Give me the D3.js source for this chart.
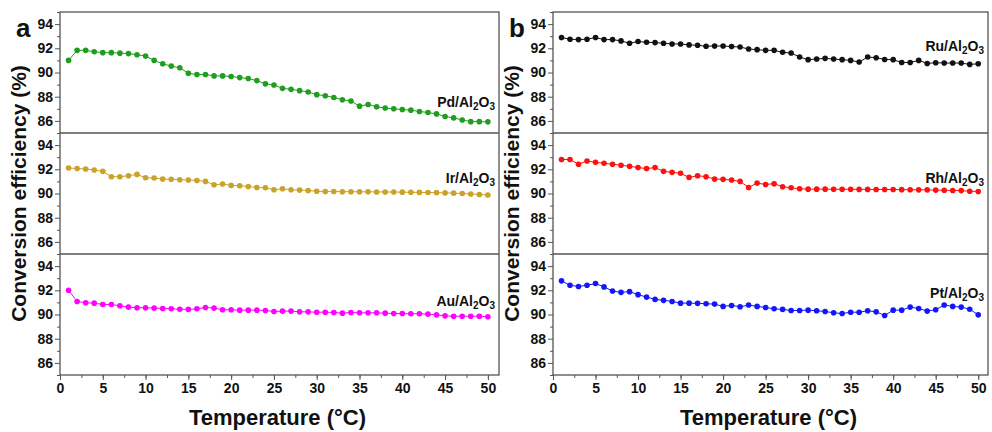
<html>
  <head>
    <script src="https://d3js.org/d3.v7.min.js"></script>
    <style>
      body { margin: 0; background: #fff; }
      text { font-family: "Liberation Sans", Arial, sans-serif; font-weight: bold; }
    </style>
  </head>

  <body>
    <div id="vis"></div>
  </body>

  <script>
    // temperature points 1..50
    var temps = d3.range(1, 51)

    var yTicks = [86, 88, 90, 92, 94]
    var xTicks = [0, 5, 10, 15, 20, 25, 30, 35, 40, 45, 50]

    // panel a
    var pd = [91.0, 91.83, 91.83, 91.72, 91.64, 91.64, 91.6, 91.56, 91.47, 91.36,
      91.0, 90.72, 90.53, 90.39, 89.94, 89.83, 89.83, 89.72, 89.72, 89.67,
      89.58, 89.5, 89.33, 89.06, 88.97, 88.69, 88.61, 88.5, 88.39, 88.17,
      88.08, 87.94, 87.75, 87.64, 87.22, 87.36, 87.17, 87.06, 87.0, 86.94,
      86.89, 86.78, 86.69, 86.58, 86.36, 86.25, 86.08, 85.94, 85.94, 85.92]
    var ir = [92.11, 92.06, 92.03, 91.94, 91.83, 91.39, 91.39, 91.47, 91.58, 91.3,
      91.28, 91.19, 91.17, 91.14, 91.11, 91.08, 91.0, 90.72, 90.78, 90.67,
      90.64, 90.58, 90.5, 90.47, 90.31, 90.39, 90.31, 90.28, 90.25, 90.19,
      90.17, 90.17, 90.15, 90.15, 90.14, 90.14, 90.13, 90.13, 90.12, 90.11,
      90.1, 90.09, 90.08, 90.07, 90.05, 90.03, 90.0, 89.96, 89.92, 89.88]
    var au = [92.0, 91.08, 90.97, 90.94, 90.83, 90.83, 90.72, 90.61, 90.56, 90.56,
      90.53, 90.5, 90.47, 90.44, 90.42, 90.47, 90.58, 90.53, 90.39, 90.39,
      90.36, 90.36, 90.36, 90.33, 90.25, 90.28, 90.28, 90.22, 90.22, 90.19,
      90.19, 90.17, 90.11, 90.17, 90.14, 90.14, 90.14, 90.11, 90.08, 90.08,
      90.06, 90.06, 90.03, 89.97, 89.89, 89.86, 89.86, 89.86, 89.86, 89.81]

    // panel b
    var ru = [92.89, 92.75, 92.72, 92.75, 92.89, 92.72, 92.72, 92.61, 92.42, 92.56,
      92.5, 92.47, 92.42, 92.36, 92.36, 92.28, 92.25, 92.17, 92.19, 92.19,
      92.14, 92.11, 91.94, 91.89, 91.83, 91.83, 91.67, 91.61, 91.28, 91.06,
      91.11, 91.17, 91.11, 91.06, 91.0, 90.86, 91.28, 91.22, 91.08, 91.06,
      90.83, 90.83, 91.0, 90.75, 90.81, 90.78, 90.78, 90.78, 90.67, 90.72]
    var rh = [92.81, 92.81, 92.42, 92.69, 92.58, 92.5, 92.42, 92.33, 92.25, 92.14,
      92.06, 92.14, 91.83, 91.75, 91.67, 91.33, 91.47, 91.39, 91.19, 91.17,
      91.11, 91.0, 90.5, 90.86, 90.75, 90.81, 90.56, 90.47, 90.39, 90.36,
      90.36, 90.36, 90.35, 90.35, 90.35, 90.34, 90.34, 90.33, 90.33, 90.33,
      90.32, 90.31, 90.3, 90.3, 90.28, 90.27, 90.25, 90.24, 90.19, 90.17]
    var pt = [92.78, 92.42, 92.31, 92.42, 92.56, 92.28, 91.94, 91.83, 91.89, 91.64,
      91.44, 91.25, 91.17, 91.08, 90.94, 90.94, 90.92, 90.89, 90.86, 90.67,
      90.75, 90.64, 90.78, 90.67, 90.58, 90.47, 90.42, 90.33, 90.33, 90.36,
      90.31, 90.25, 90.14, 90.08, 90.19, 90.19, 90.31, 90.22, 89.92, 90.36,
      90.36, 90.61, 90.5, 90.28, 90.39, 90.78, 90.67, 90.61, 90.44, 89.97]

    var svg = d3.select("#vis")
      .append("svg")
      .attr("width", 992)
      .attr("height", 432)

    var frameColor = "#555"

    var panels = [
      { letter: "a", left: 60, right: 499, xMax: 51.3,
        series: [
          { name: "Pd", values: pd, color: "#1f9d1f", labelY: 87.15 },
          { name: "Ir", values: ir, color: "#c9a227", labelY: 90.85 },
          { name: "Au", values: au, color: "#ff00ff", labelY: 90.7 }
        ] },
      { letter: "b", left: 553, right: 988, xMax: 51.15,
        series: [
          { name: "Ru", values: ru, color: "#111111", labelY: 91.8 },
          { name: "Rh", values: rh, color: "#ff1010", labelY: 90.85 },
          { name: "Pt", values: pt, color: "#1414ff", labelY: 91.35 }
        ] }
    ]

    var plotTop = 12
    var subH = 121
    var plotBottom = plotTop + subH * 3

    panels.forEach(function(p) {
      var x = d3.scaleLinear().domain([0, p.xMax]).range([p.left, p.right])
      var g = svg.append("g")

      p.series.forEach(function(s, i) {
        var y0 = plotTop + i * subH
        var y = d3.scaleLinear().domain([85, 95]).range([y0 + subH, y0])

        // minor y ticks
        g.append("g")
          .attr("transform", "translate(" + p.left + ",0)")
          .call(d3.axisLeft(y).tickValues([85, 87, 89, 91, 93, 95]).tickSize(3).tickFormat(""))
          .call(function(a) { a.select(".domain").remove() })
          .selectAll("line").attr("stroke", frameColor)

        // major y ticks
        var ay = g.append("g")
          .attr("transform", "translate(" + p.left + ",0)")
          .call(d3.axisLeft(y).tickValues(yTicks).tickSize(5).tickPadding(2))
        ay.select(".domain").remove()
        ay.selectAll("line").attr("stroke", frameColor)
        ay.selectAll("text")
          .style("font-size", "14px")
          .style("font-weight", "bold")
          .style("font-family", "Liberation Sans, Arial, sans-serif")
          .attr("fill", "#111")

        var line = d3.line()
          .x(function(d, j) { return x(temps[j]) })
          .y(function(d) { return y(d) })

        g.append("path")
          .datum(s.values)
          .attr("fill", "none")
          .attr("stroke", s.color)
          .attr("stroke-width", 1)
          .attr("d", line)

        g.selectAll(".dot" + s.name)
          .data(s.values)
          .enter()
          .append("circle")
          .attr("cx", function(d, j) { return x(temps[j]) })
          .attr("cy", function(d) { return y(d) })
          .attr("r", 2.8)
          .attr("fill", s.color)

        // series label with subscripts
        var lab = g.append("text")
          .attr("x", p.right - 4)
          .attr("y", y(s.labelY))
          .attr("text-anchor", "end")
          .style("font-size", "14px")
          .attr("fill", "#111")
        lab.append("tspan").text(s.name + "/Al")
        lab.append("tspan").text("2").style("font-size", "10px").attr("dy", 3)
        lab.append("tspan").text("O").attr("dy", -3)
        lab.append("tspan").text("3").style("font-size", "10px").attr("dy", 3)

        if (i > 0) {
          g.append("line")
            .attr("x1", p.left).attr("x2", p.right)
            .attr("y1", y0).attr("y2", y0)
            .attr("stroke", frameColor)
            .attr("stroke-width", 1.3)
        }
      })

      // x axis
      g.append("g")
        .attr("transform", "translate(0," + plotBottom + ")")
        .call(d3.axisBottom(x).tickValues(d3.range(0, 51, 2.5)).tickSize(3).tickFormat(""))
        .call(function(a) { a.select(".domain").remove() })
        .selectAll("line").attr("stroke", frameColor)

      var ax = g.append("g")
        .attr("transform", "translate(0," + plotBottom + ")")
        .call(d3.axisBottom(x).tickValues(xTicks).tickSize(5).tickPadding(3))
      ax.select(".domain").remove()
      ax.selectAll("line").attr("stroke", frameColor)
      ax.selectAll("text")
        .style("font-size", "14px")
        .style("font-weight", "bold")
        .style("font-family", "Liberation Sans, Arial, sans-serif")
        .attr("fill", "#111")

      // frame
      g.append("rect")
        .attr("x", p.left).attr("y", plotTop)
        .attr("width", p.right - p.left).attr("height", plotBottom - plotTop)
        .attr("fill", "none")
        .attr("stroke", frameColor)
        .attr("stroke-width", 1.3)

      // titles
      g.append("text")
        .attr("x", (p.left + p.right) / 2 - 2)
        .attr("y", 425)
        .attr("text-anchor", "middle")
        .style("font-size", "22px")
        .attr("fill", "#111")
        .text("Temperature (\u00B0C)")

      g.append("text")
        .attr("transform", "translate(" + (p.left - 34) + "," + ((plotTop + plotBottom) / 2) + ") rotate(-90)")
        .attr("text-anchor", "middle")
        .style("font-size", "21px")
        .attr("fill", "#111")
        .text("Conversion efficiency (%)")

      g.append("text")
        .attr("x", p.left - 44)
        .attr("y", 37)
        .style("font-size", "26px")
        .attr("fill", "#111")
        .text(p.letter)
    })
  </script>
</html>
